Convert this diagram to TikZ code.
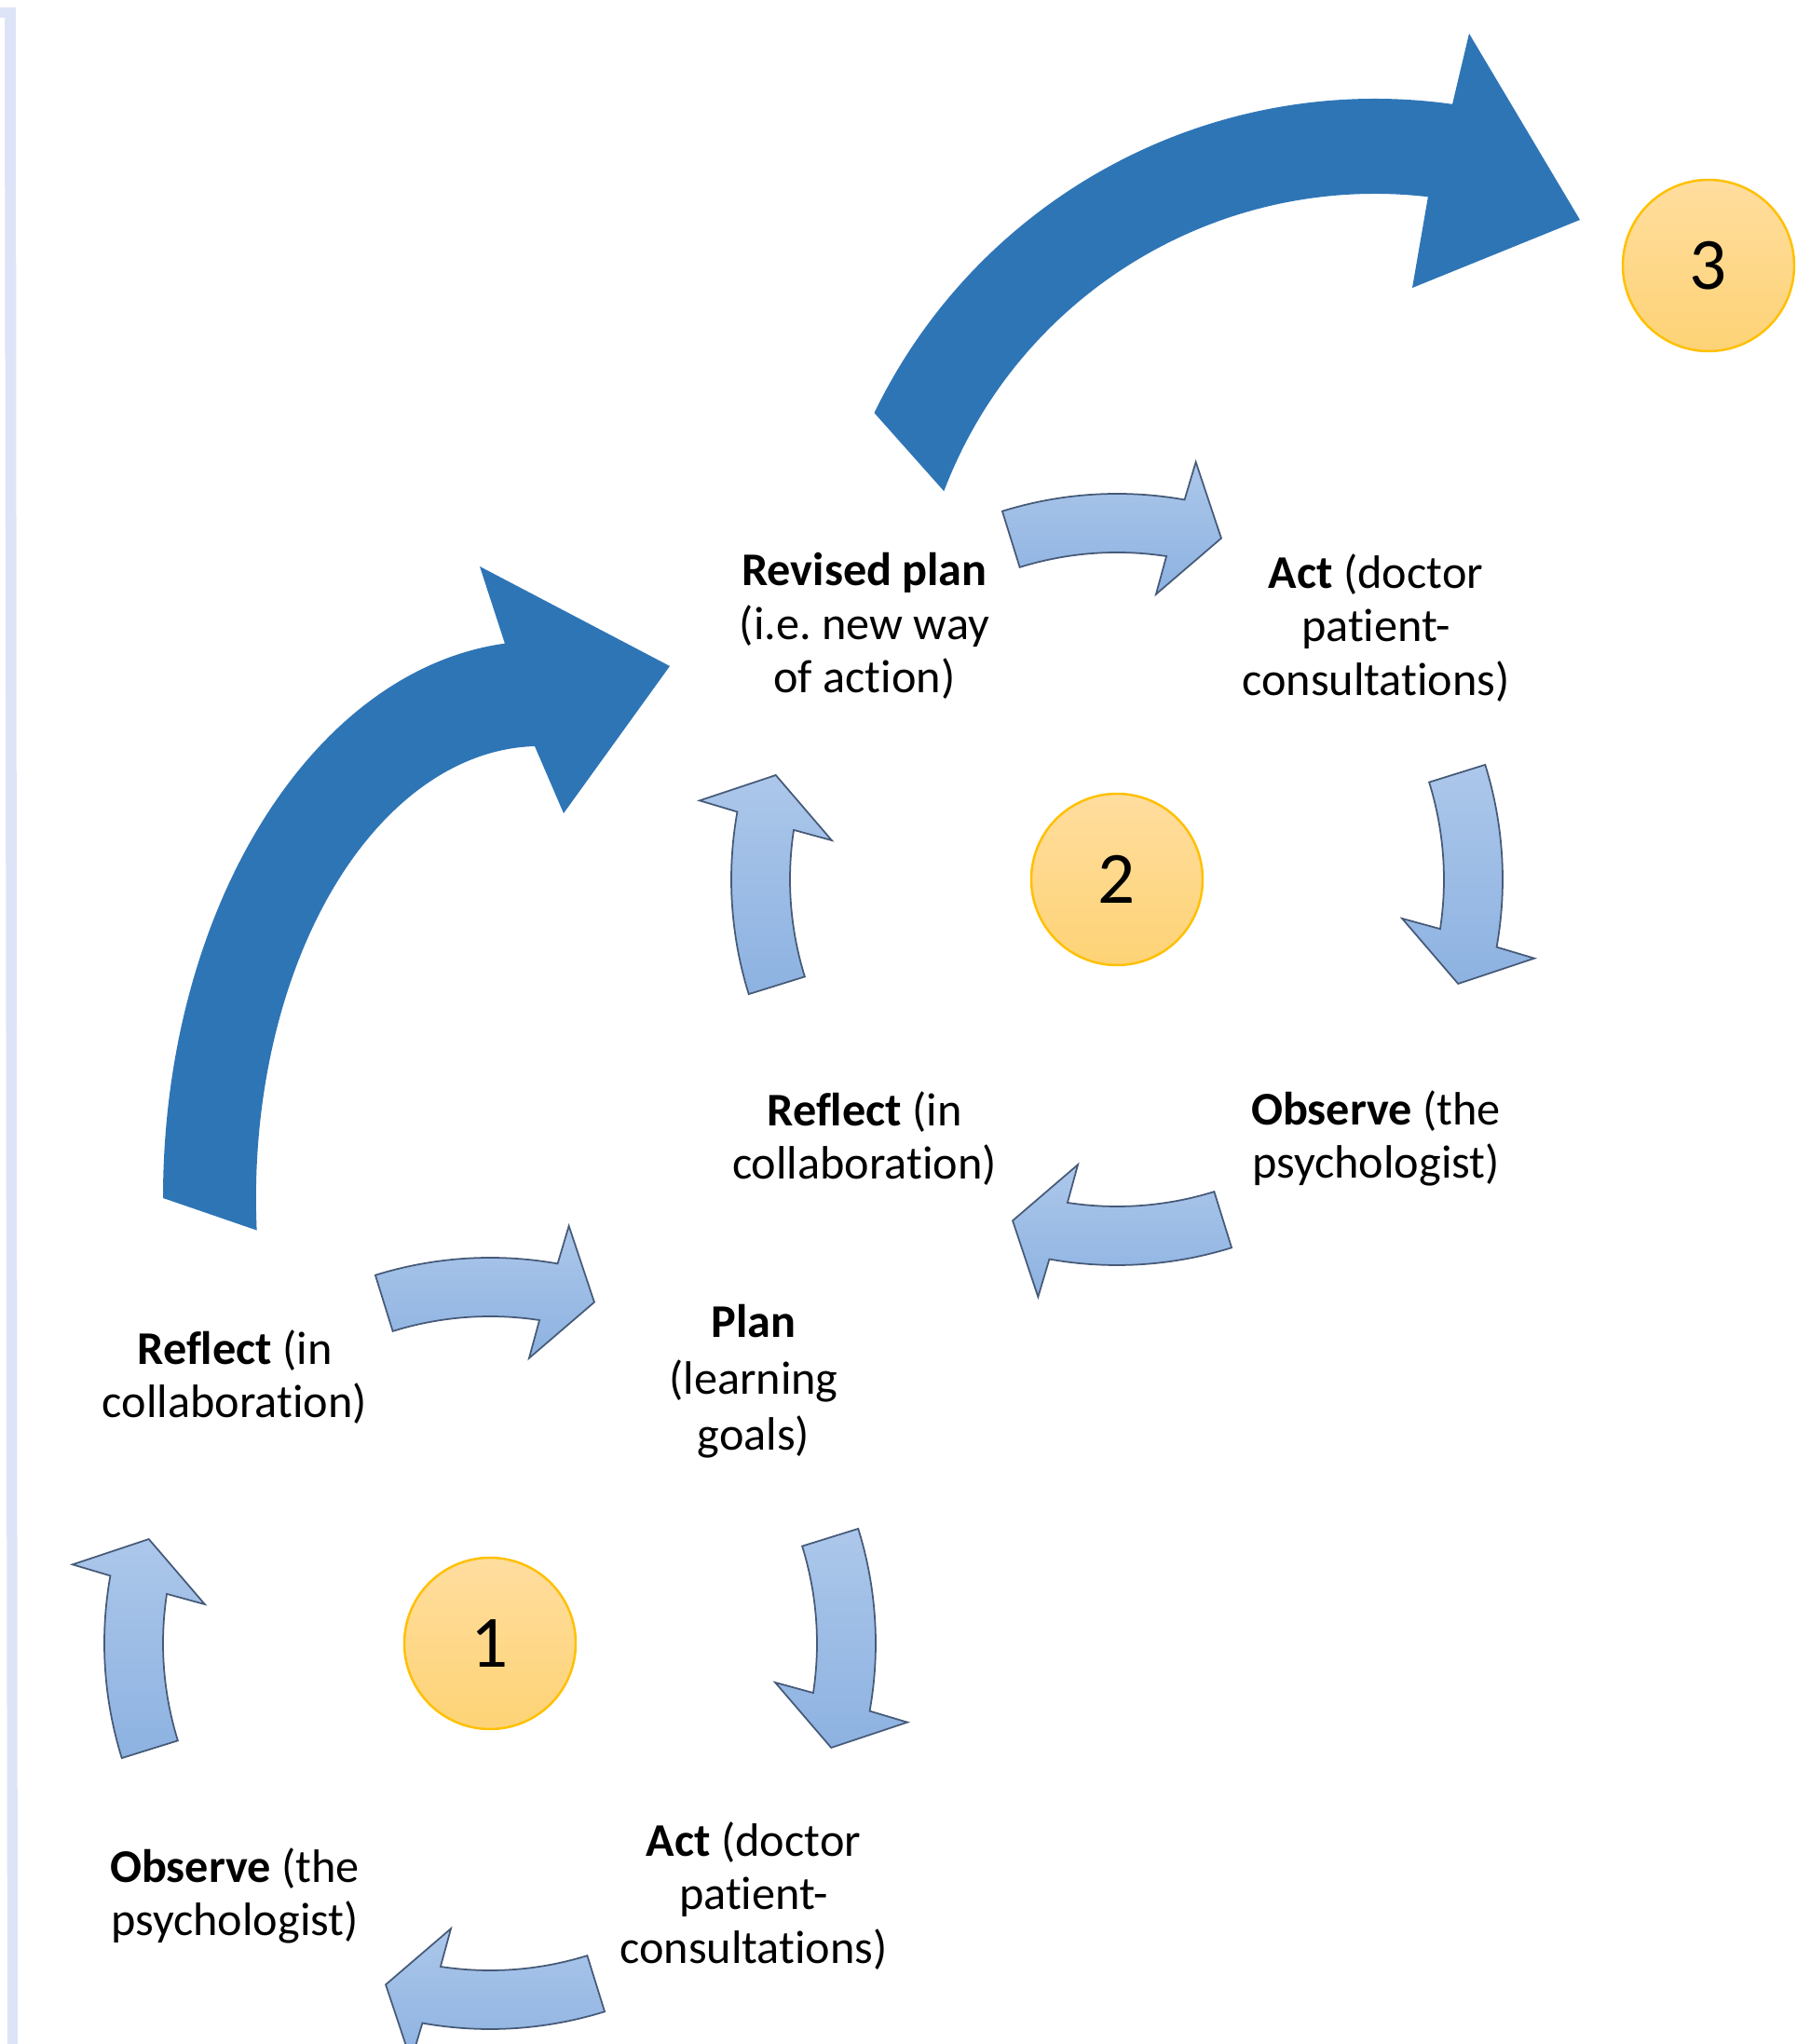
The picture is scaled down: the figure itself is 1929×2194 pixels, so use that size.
\documentclass[tikz,border=0pt]{standalone}
\usepackage{fontspec}
\setmainfont{Carlito}[Ligatures=NoCommon]
\usetikzlibrary{positioning}
\usetikzlibrary{calc}
\definecolor{bigarrow}{RGB}{46,117,182}
\definecolor{arrowtop}{RGB}{172,199,234}
\definecolor{arrowbot}{RGB}{141,178,225}
\definecolor{arrowrim}{RGB}{70,90,120}
\definecolor{numtop}{RGB}{255,221,158}
\definecolor{numbot}{RGB}{254,211,118}
\definecolor{numrim}{RGB}{255,192,0}
\definecolor{sideline}{RGB}{222,228,247}
\frenchspacing
\tikzset{lbl/.style={align=center, inner sep=0pt, font=\fontsize{14.3}{16.3}\selectfont}}
\tikzset{num/.style={circle, draw=numrim, line width=0.7pt, top color=numtop, bottom color=numbot, minimum size=18.4mm, inner sep=0pt, font=\fontsize{22.5}{27}\selectfont}}
\tikzset{lightarrow/.style={draw=arrowrim, line width=0.5pt, top color=arrowtop, bottom color=arrowbot}}
\tikzset{cyclearrow/.pic={
    \path[lightarrow] ({#1+17.3}:414) arc[start angle={#1+17.3}, end angle={#1-10.1}, radius=414]
        -- ({#1-10.7}:456) -- ({#1-17}:383) -- ({#1-7.8}:309) -- ({#1-8.7}:351)
        arc[start angle={#1-8.7}, end angle={#1+17.3}, radius=351] -- cycle;
}}

\begin{document}
\begin{tikzpicture}[x=0.1mm, y=0.1mm]
        \useasboundingbox (0,0) rectangle (1929,2194);
        \fill[sideline] (0,2186) -- (17,2186) -- (19,0) -- (8,0) -- (5,2175) -- (0,2175) -- cycle;

        \node[num] (num1) at (526,430) {1};
        \node[num] (num2) at (1199,1250) {2};
        \node[num] (num3) at (1834,1909) {3};

        % first cycle
        \node[lbl] (reflectA) at (252,716) {\textbf{Reflect} (in\\collaboration)};
        \node[lbl, font=\fontsize{14.3}{17.2}\selectfont] (planA) at (809,711) {\textbf{Plan}\\(learning\\goals)};
        \node[lbl] (actA) at (809,159) {\textbf{Act} (doctor\\patient-\\consultations)};
        \node[lbl] (observeA) at (252,159) {\textbf{Observe} (the\\psychologist)};

        % second cycle
        \node[lbl] (planB) at (928,1522) {\textbf{Revised plan}\\(i.e. new way\\of action)};
        \node[lbl] (actB) at (1477,1520) {\textbf{Act} (doctor\\patient-\\consultations)};
        \node[lbl] (observeB) at (1477,972) {\textbf{Observe} (the\\psychologist)};
        \node[lbl] (reflectB) at (928,972) {\textbf{Reflect} (in\\collaboration)};

        \foreach \a in {180,90,0,270} {
            \pic at (num1) {cyclearrow=\a};
            \pic at (num2) {cyclearrow=\a};
        }

        % from one cycle up to the next
        \fill[bigarrow] (175,908) arc[start angle=180, end angle=95.4, x radius=405, y radius=598]
         -- (515,1586) -- (719,1479) -- (605,1321) -- (574,1393)
         arc[start angle=91.1, end angle=184.1, x radius=305, y radius=485] -- cycle;
        \fill[bigarrow] (938.5,1750.8) arc[start angle=154.2, end angle=82, radius=597]
         -- (1577,2158) -- (1696,1958) -- (1516,1885) -- (1532.9,1982.7)
         arc[start angle=83.4, end angle=159.2, radius=495] -- cycle;
    \end{tikzpicture}
\end{document}
